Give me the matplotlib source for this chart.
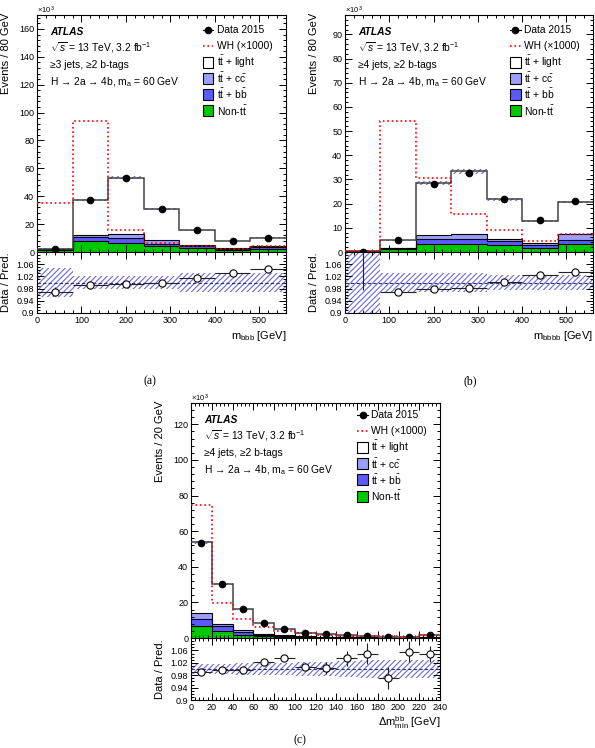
import matplotlib
matplotlib.use('Agg')
import matplotlib.pyplot as plt
import numpy as np
from matplotlib.patches import Rectangle
from matplotlib.lines import Line2D
from matplotlib.ticker import MultipleLocator, FixedLocator

plt.rcParams['font.family'] = ['Liberation Sans', 'DejaVu Sans']
plt.rcParams['mathtext.fontset'] = 'custom'
plt.rcParams['mathtext.rm'] = 'Liberation Sans'
plt.rcParams['mathtext.it'] = 'Liberation Sans:italic'
plt.rcParams['mathtext.bf'] = 'Liberation Sans:bold'
plt.rcParams['hatch.linewidth'] = 0.8

# ---------------- data (events in units of 10^3) ----------------
edges_m = [0, 80, 160, 240, 320, 400, 480, 560]
edges_dm = [0, 20, 40, 60, 80, 100, 120, 140, 160, 180, 200, 220, 240]

# panel (a): m_bbb, >=3 jets
a_data = [2.4, 37.0, 53.0, 30.8, 15.5, 7.9, 10.0]
a_nontt = [1.5, 8.0, 6.7, 4.1, 2.8, 1.7, 2.4]
a_ttbb = [0.4, 2.8, 3.3, 1.9, 1.2, 0.7, 1.2]
a_ttcc = [0.2, 1.5, 3.1, 2.4, 1.0, 0.5, 0.7]
a_ttlight = [0.4, 25.0, 40.2, 22.5, 10.6, 5.0, 5.8]
a_wh = [35.3, 93.8, 15.5, 6.5, 4.0, 2.2, 4.0]
a_ratio = [0.970, 0.993, 0.994, 0.997, 1.016, 1.032, 1.044]
a_ratio_err = [0.015, 0.004, 0.004, 0.005, 0.006, 0.008, 0.008]
a_band = [0.047, 0.022, 0.022, 0.022, 0.030, 0.030, 0.030]

# panel (b): m_bbbb, >=4 jets
b_data = [0.0, 4.8, 28.3, 32.7, 21.8, 13.1, 21.0]
b_nontt = [0.2, 1.4, 3.5, 3.5, 3.0, 1.8, 3.5]
b_ttbb = [0.1, 0.3, 1.9, 2.0, 1.6, 1.0, 1.6]
b_ttcc = [0.05, 0.1, 1.5, 2.1, 0.9, 0.9, 2.2]
b_ttlight = [0.1, 3.1, 21.8, 25.8, 16.3, 9.1, 13.4]
b_wh = [0.4, 54.1, 30.8, 15.6, 9.0, 4.6, 7.6]
b_ratio = [1.3, 0.968, 0.980, 0.983, 1.002, 1.024, 1.035]
b_ratio_err = [0.325, 0.006, 0.004, 0.004, 0.005, 0.007, 0.006]
b_band = [0.5, 0.030, 0.030, 0.030, 0.025, 0.025, 0.025]

# panel (c): delta m^bb_min, >=4 jets
c_data = [53.1, 30.2, 16.1, 8.6, 5.0, 3.0, 2.0, 1.5, 1.05, 0.72, 0.63, 1.78]
c_nontt = [6.5, 4.2, 1.9, 1.0, 0.6, 0.35, 0.25, 0.2, 0.15, 0.1, 0.1, 0.2]
c_ttbb = [3.9, 2.3, 1.6, 0.5, 0.4, 0.25, 0.15, 0.1, 0.08, 0.06, 0.05, 0.12]
c_ttcc = [3.4, 1.6, 1.1, 0.8, 0.5, 0.3, 0.2, 0.15, 0.1, 0.08, 0.07, 0.15]
c_ttlight = [40.0, 22.2, 11.5, 6.1, 3.3, 2.1, 1.4, 1.0, 0.67, 0.51, 0.38, 1.23]
c_wh = [74.6, 19.6, 10.4, 6.2, 3.8, 2.6, 1.8, 1.4, 1.1, 0.9, 0.8, 1.6]
c_ratio = [0.989, 0.997, 0.997, 1.021, 1.035, 1.008, 1.003, 1.034, 1.050, 0.970, 1.056, 1.047]
c_ratio_err = [0.003, 0.004, 0.005, 0.007, 0.009, 0.012, 0.018, 0.025, 0.033, 0.036, 0.035, 0.026]
c_band = [0.017, 0.017, 0.018, 0.019, 0.020, 0.022, 0.024, 0.026, 0.028, 0.030, 0.030, 0.030]

legend_labels = ["Data 2015", "WH (\u00d71000)", r"$\mathrm{t\bar{t}}$ + light",
                 r"$\mathrm{t\bar{t}}$ + $\mathrm{c\bar{c}}$", r"$\mathrm{t\bar{t}}$ + $\mathrm{b\bar{b}}$",
                 r"Non-$\mathrm{t\bar{t}}$"]
ratio_ticks = [0.9, 0.94, 0.98, 1.02, 1.06]
ratio_ticklabels = ['0.9', '0.94', '0.98', '1.02', '1.06']

# ---------------- styles ----------------
W, H = 595, 748
C_NONTT = '#00c800'
C_TTBB = '#5a5aff'
C_TTCC = '#9d9dff'
C_HATCH = '#6a6ad8'
FS = 7.4

fig = plt.figure(figsize=(W / 100, H / 100), dpi=100)


def rect(l, t, r, b):
    return [l / W, 1 - b / H, (r - l) / W, (b - t) / H]


def fx(x):
    return x / W


def fy(y):
    return 1 - y / H


def style_axes(a, xmaj, xmin, ymaj=None, ymin=None):
    a.xaxis.set_major_locator(MultipleLocator(xmaj))
    a.xaxis.set_minor_locator(MultipleLocator(xmin))
    if ymaj is not None:
        a.yaxis.set_major_locator(MultipleLocator(ymaj))
        a.yaxis.set_minor_locator(MultipleLocator(ymin))
    a.tick_params(which='both', direction='in', top=True, right=True,
                  labelsize=6.5, width=0.7, pad=2)
    a.tick_params(which='major', length=5)
    a.tick_params(which='minor', length=2.5)
    for s in a.spines.values():
        s.set_linewidth(0.8)


def draw_legend(box_x, text_x, y0, dy):
    bw, bh = 10.7, 11.0
    for i, lab in enumerate(legend_labels):
        y = y0 + i * dy
        if i == 0:
            fig.add_artist(Line2D([fx(box_x), fx(box_x + bw)], [fy(y), fy(y)],
                                  color='black', lw=0.8, transform=fig.transFigure))
            fig.add_artist(Line2D([fx(box_x + bw / 2)], [fy(y)], marker='o', ms=4.5,
                                  color='black', transform=fig.transFigure))
        elif i == 1:
            fig.add_artist(Line2D([fx(box_x), fx(box_x + bw)], [fy(y), fy(y)],
                                  color='red', lw=1.2, ls=':', transform=fig.transFigure))
        else:
            fc = ['white', C_TTCC, C_TTBB, C_NONTT][i - 2]
            fig.add_artist(Rectangle((fx(box_x), fy(y + bh / 2)), bw / W, bh / H,
                                     facecolor=fc, edgecolor='black', lw=0.8,
                                     transform=fig.transFigure))
        fig.text(fx(text_x), fy(y), lab, fontsize=FS, va='center', ha='left')


def draw_panel(px, edges, data, nontt, ttbb, ttcc, light, wh, ratio, rerr, band,
               ylim, ymaj, ymin, xmaj, xmin, ylabel, xlabel, sel, leg, label_xy, plabel):
    l, t, r, mb, rb = px
    ax = fig.add_axes(rect(l, t, r, mb))
    rx = fig.add_axes(rect(l, mb, r, rb))
    edges = np.array(edges, dtype=float)
    centers = 0.5 * (edges[1:] + edges[:-1])
    widths = np.diff(edges)
    c1 = np.array(nontt)
    c2 = c1 + np.array(ttbb)
    c3 = c2 + np.array(ttcc)
    c4 = c3 + np.array(light)
    band = np.array(band)

    ax.stairs(c1, edges, baseline=0, fill=True, color=C_NONTT, zorder=1)
    ax.stairs(c2, edges, baseline=c1, fill=True, color=C_TTBB, zorder=1)
    ax.stairs(c3, edges, baseline=c2, fill=True, color=C_TTCC, zorder=1)
    ax.stairs(c4, edges, baseline=c3, fill=True, color='white', zorder=1)
    for c in (c1, c2, c3):
        ax.stairs(c, edges, baseline=None, color='black', lw=0.8, zorder=2)
    ax.bar(centers, 2 * band * c4, bottom=c4 * (1 - band), width=widths,
           facecolor='none', edgecolor=C_HATCH, hatch='//////', lw=0, zorder=2)
    ax.stairs(c4, edges, baseline=None, color='#444444', lw=1.1, zorder=3)
    ax.stairs(wh, edges, baseline=None, color='red', ls=':', lw=1.2, zorder=4)
    ax.plot(centers, data, 'o', color='black', ms=4.5, clip_on=False, zorder=6)
    ax.set_xlim(edges[0], edges[-1])
    ax.set_ylim(*ylim)
    style_axes(ax, xmaj, xmin, ymaj, ymin)
    ax.tick_params(labelbottom=False)

    rx.bar(centers, 2 * band, bottom=1 - band, width=widths, facecolor='none',
           edgecolor=C_HATCH, hatch='//////', lw=0, zorder=1)
    rx.axhline(1.0, color='#30307a', lw=0.8, dashes=(3, 2), zorder=2)
    rx.errorbar(centers, ratio, yerr=rerr, xerr=widths / 2, fmt='o', mfc='white',
                mec='black', mew=0.8, ms=5.2, ecolor='#222222', elinewidth=0.8,
                capsize=0, zorder=3)
    rx.set_xlim(edges[0], edges[-1])
    rx.set_ylim(0.9, 1.1)
    style_axes(rx, xmaj, xmin)
    rx.yaxis.set_major_locator(FixedLocator(ratio_ticks))
    rx.set_yticklabels(ratio_ticklabels)
    rx.yaxis.set_minor_locator(MultipleLocator(0.01))

    # labels
    fig.text(fx(l - 31), fy(t - 2), ylabel, rotation=90, fontsize=8, ha='center', va='top')
    fig.text(fx(l - 31), fy((mb + rb) / 2), "Data / Pred.", rotation=90, fontsize=8,
             ha='center', va='center')
    fig.text(fx(r), fy(rb + 23), xlabel, fontsize=8, ha='right', va='center')
    fig.text(fx(l), fy(t - 5), r"$\times$10$^{3}$", fontsize=5.5, ha='left', va='center')

    # annotations
    tx = l + 13
    fig.text(fx(tx), fy(t + 17), "ATLAS", fontsize=FS, fontweight='bold', fontstyle='italic',
             va='center')
    fig.text(fx(tx), fy(t + 33), r"$\sqrt{s}$ = 13 TeV, 3.2 fb$^{\mathrm{-1}}$", fontsize=FS,
             va='center')
    fig.text(fx(tx), fy(t + 50), sel, fontsize=FS, va='center')
    fig.text(fx(tx), fy(t + 67), "H \u2192 2a \u2192 4b, m$_{\\mathrm{a}}$ = 60 GeV", fontsize=FS,
             va='center')
    draw_legend(*leg)
    fig.text(fx(label_xy[0]), fy(label_xy[1]), plabel, fontsize=8.5,
             family='Liberation Serif', ha='center', va='center')


draw_panel((37, 15, 286, 252, 313), edges_m, a_data, a_nontt, a_ttbb, a_ttcc, a_ttlight, a_wh,
           a_ratio, a_ratio_err, a_band, (0, 170), 20, 4, 100, 20,
           "Events / 80 GeV", r"m$_{\mathrm{bbb}}$ [GeV]", "\u22653 jets, \u22652 b-tags",
           (202.7, 216.7, 30, 16.1), (150, 381), "(a)")
draw_panel((345, 15, 593, 252, 313), edges_m, b_data, b_nontt, b_ttbb, b_ttcc, b_ttlight, b_wh,
           b_ratio, b_ratio_err, b_band, (0, 98), 10, 2, 100, 20,
           "Events / 80 GeV", r"m$_{\mathrm{bbbb}}$ [GeV]", "\u22654 jets, \u22652 b-tags",
           (510, 524.3, 30, 16.1), (470, 381), "(b)")
draw_panel((191, 403, 440, 638, 700), edges_dm, c_data, c_nontt, c_ttbb, c_ttcc, c_ttlight, c_wh,
           c_ratio, c_ratio_err, c_band, (0, 132), 20, 4, 20, 4,
           "Events / 20 GeV", r"$\Delta$m$^{\mathrm{bb}}_{\mathrm{min}}$ [GeV]",
           "\u22654 jets, \u22652 b-tags",
           (357.3, 370.7, 415, 16.2), (300, 740), "(c)")

fig.savefig('out.png', dpi=100)
